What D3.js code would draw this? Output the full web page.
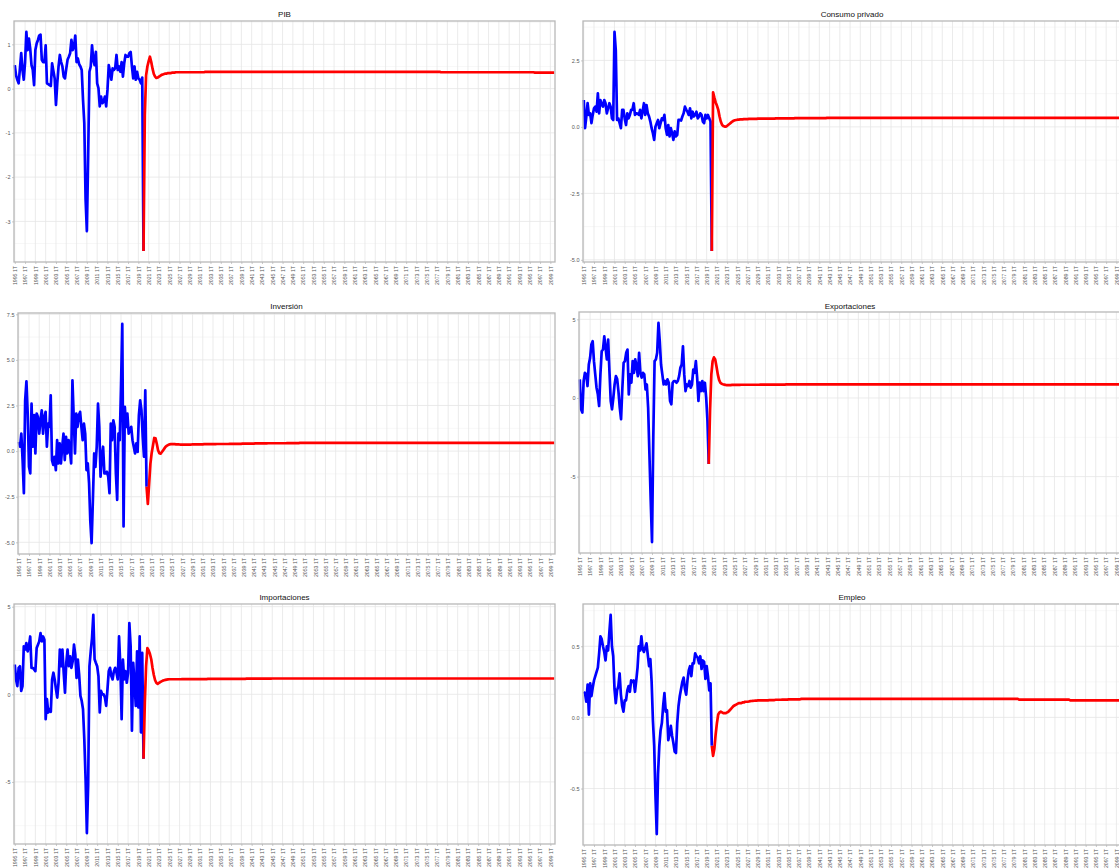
<!DOCTYPE html>
<html><head><meta charset="utf-8">
<script src="https://cdn.jsdelivr.net/npm/d3@7"></script>
<style>
html,body{margin:0;padding:0;background:#fff;overflow:hidden}
svg{display:block;font-family:"Liberation Sans",Arial,sans-serif}
</style></head><body>
<svg id="chart" width="1119" height="868"></svg>
<script>
// ---------- categories (quarters 1995 1T .. 2099 4T) ----------
const categories = [];
for (let y = 1995; y <= 2099; y++) for (let q = 1; q <= 4; q++) categories.push(y + " " + q + "T");
const forecastStart = "2020 1T";

const tickLabels = ["1995 1T","1997 1T","1999 1T","2001 1T","2003 1T","2005 1T","2007 1T","2009 1T","2011 1T","2013 1T","2015 1T","2017 1T","2019 1T","2021 1T","2023 1T","2025 1T","2027 1T","2029 1T","2031 1T","2033 1T","2035 1T","2037 1T","2039 1T","2041 1T","2043 1T","2045 1T","2047 1T","2049 1T","2051 1T","2053 1T","2055 1T","2057 1T","2059 1T","2061 1T","2063 1T","2065 1T","2067 1T","2069 1T","2071 1T","2073 1T","2075 1T","2077 1T","2079 1T","2081 1T","2083 1T","2085 1T","2087 1T","2089 1T","2091 1T","2093 1T","2095 1T","2097 1T","2099 1T"];

// ---------- historical series (1995 1T .. 2020 1T) ----------
const pibHist = [0.53,0.3,0.2,0.12,0.45,0.8,0.42,0.2,0.6,1.28,
0.87,1.13,0.9,0.53,0.42,0.08,0.87,1.02,1.1,1.2,
1.22,0.65,0.6,0.6,0.98,0.12,0.1,0.08,0.06,0.57,
0.4,0.23,-0.37,0.12,0.5,0.76,0.6,0.5,0.27,0.23,
0.45,0.65,0.72,0.8,1.1,0.87,0.95,1.2,0.6,0.68,
0.55,0.5,0.42,-0.25,-0.78,-2.5,-3.22,-1.53,0.38,0.5,
0.98,0.65,0.53,0.83,0.12,0.01,-0.4,-0.18,-0.33,-0.3,
-0.18,-0.4,-0.03,0.53,0.38,0.2,0.46,0.42,0.46,0.76,
0.42,0.5,0.38,0.6,0.27,0.57,0.76,0.72,0.72,0.8,
0.83,0.5,0.23,0.5,0.2,0.38,0.23,0.2,0.12,0.25,
-3.67];
const consumoHist = [1.01,-0.05,0.39,0.89,0.45,0.51,0.14,0.45,0.7,0.76,
0.57,1.26,0.51,1.01,0.85,0.76,1.01,0.89,0.51,0.7,
0.89,0.76,0.32,0.26,3.57,2.88,0.26,0.32,0.14,-0.05,
0.64,0.64,0.3,0.07,0.51,0.32,0.45,0.64,0.64,0.89,
0.45,0.51,0.5,0.45,0.64,0.32,0.6,0.89,0.45,0.82,
0.51,0.39,0.2,-0.05,-0.24,-0.49,0.01,0.14,0.26,-0.05,
0.14,0.32,0.26,0.45,-0.05,-0.3,0.07,-0.36,-0.05,-0.24,
-0.49,-0.17,-0.36,-0.3,0.26,0.26,0.24,0.39,0.51,0.76,
0.65,0.57,0.45,0.7,0.32,0.57,0.39,0.45,0.57,0.32,
0.39,0.51,0.45,0.2,0.14,0.45,0.32,0.45,0.32,0.2,
-4.67];
const inversionHist = [0.51,0.24,0.96,-0.49,-2.31,2.78,3.82,2.06,-0.86,-1.22,
2.6,0.24,1.97,-0.13,2.06,1.87,0.96,1.69,2.24,0.96,
1.87,2.15,0.24,1.51,1.33,3.06,-0.49,-0.76,-0.31,-1.04,
0.6,-0.67,0.42,-0.67,0.24,0.96,-0.49,0.78,-0.13,0.6,
0.05,-0.67,3.88,1.87,-0.13,2.06,1.33,1.97,2.15,1.33,
0.6,1.51,0.96,-1.04,-0.67,-1.76,-3.86,-5.04,-2.67,-0.13,
-0.86,0.24,2.6,1.33,-1.4,-0.31,0.24,-1.22,-1.22,-1.13,
-1.4,-2.31,1.51,0.6,1.69,1.33,-1.22,-2.67,0.96,0.6,
3.51,6.97,-4.13,2.42,1.33,2.06,0.96,1.15,1.33,0.6,
0.24,-0.13,0.42,-0.04,1.97,2.78,2.24,0.78,-0.31,3.33,
-1.95];
const exportHist = [1.18,-0.72,-0.93,1.08,1.6,1.5,0.76,2.13,2.55,3.4,
3.61,2.34,1.5,0.65,0.23,-0.51,1.5,2.97,3.08,3.92,
3.19,2.45,3.71,1.71,-0.19,-0.72,0.0,0.86,1.39,1.2,
0.4,-0.61,-1.35,0.6,2.24,2.34,2.87,3.08,0.23,1.5,
0.97,2.34,1.6,2.45,2.03,1.39,2.87,1.6,1.29,1.6,
1.5,0.55,0.86,-0.61,-3.57,-6.52,-9.16,-2.5,2.34,2.45,
2.87,4.77,3.61,2.13,1.5,0.86,1.08,0.86,1.18,0.97,
-0.19,-0.4,0.97,1.08,1.08,0.97,1.08,1.39,1.92,2.13,
3.29,1.5,0.44,0.86,0.76,1.08,0.65,0.86,1.81,1.6,
2.34,1.29,-0.19,0.97,0.44,1.08,0.44,0.97,0.02,-1.46,
-4.2];
const importHist = [1.7,0.85,0.47,1.51,1.6,0.19,0.47,2.74,2.55,2.92,
2.45,2.74,3.3,1.51,1.51,1.42,1.32,2.64,2.83,3.02,
3.49,3.02,3.3,3.11,-1.42,-0.28,-1.04,-0.85,-1.0,0.85,
1.23,0.85,0.28,-0.19,0.66,2.55,1.6,2.55,1.23,0.09,
1.79,2.55,1.6,2.17,1.51,1.89,2.83,2.26,0.94,1.98,
1.13,-0.09,-0.38,-0.85,-2.55,-4.81,-7.92,-5.19,1.6,2.45,
3.21,4.53,2.0,1.79,1.6,1.04,-1.04,0.19,0.0,0.0,
-0.19,-0.66,0.28,1.32,1.51,1.04,0.85,1.32,1.51,1.23,
0.85,3.3,1.6,-1.42,1.98,0.85,1.32,0.66,1.23,4.06,
2.74,-2.08,1.79,0.66,-0.66,2.45,-0.75,3.3,-2.17,2.36,
-3.68];
const empleoHist = [0.18,0.17,0.11,0.23,0.02,0.24,0.15,0.21,0.26,0.29,
0.32,0.35,0.45,0.57,0.55,0.5,0.46,0.4,0.5,0.47,
0.6,0.72,0.5,0.43,0.2,0.1,0.19,0.22,0.31,0.16,
0.08,0.04,0.12,0.12,0.19,0.22,0.18,0.26,0.25,0.26,
0.18,0.26,0.35,0.5,0.47,0.57,0.48,0.46,0.49,0.52,
0.44,0.36,0.41,0.25,-0.02,-0.2,-0.55,-0.82,-0.4,-0.2,
-0.09,-0.04,0.08,0.17,0.04,0.05,-0.16,-0.12,-0.06,-0.13,
-0.18,-0.24,-0.25,-0.04,0.08,0.15,0.2,0.25,0.28,0.2,
0.16,0.26,0.33,0.36,0.29,0.38,0.38,0.45,0.43,0.42,
0.38,0.43,0.34,0.4,0.39,0.27,0.36,0.29,0.19,0.24,
-0.2];

// ---------- forecast series (2020 1T .. 2099 4T) ----------
const pibForecast = [-3.67,-0.6,0.3,0.5,0.62,0.72,0.6,0.45,0.33,0.27,
0.24,0.25,0.27,0.29,0.31,0.32,0.33,0.34,0.34,0.35,
0.35,0.35,0.36,0.36,0.36,0.37,0.37,0.37,0.37,0.37,
0.37,0.37,0.37,0.37,0.37,0.37,0.37,0.37,0.37,0.37,
0.37,0.37,0.37,0.37,0.37,0.37,0.37,0.37,0.38,0.38,
0.38,0.38,0.38,0.38,0.38,0.38,0.38,0.38,0.38,0.38,
0.38,0.38,0.38,0.38,0.38,0.38,0.38,0.38,0.38,0.38,
0.38,0.38,0.38,0.38,0.38,0.38,0.38,0.38,0.38,0.38,
0.38,0.38,0.38,0.38,0.38,0.38,0.38,0.38,0.38,0.38,
0.38,0.38,0.38,0.38,0.38,0.38,0.38,0.38,0.38,0.38,
0.38,0.38,0.38,0.38,0.38,0.38,0.38,0.38,0.38,0.38,
0.38,0.38,0.38,0.38,0.38,0.38,0.38,0.38,0.38,0.38,
0.38,0.38,0.38,0.38,0.38,0.38,0.38,0.38,0.38,0.38,
0.38,0.38,0.38,0.38,0.38,0.38,0.38,0.38,0.38,0.38,
0.38,0.38,0.38,0.38,0.38,0.38,0.38,0.38,0.38,0.38,
0.38,0.38,0.38,0.38,0.38,0.38,0.38,0.38,0.38,0.38,
0.38,0.38,0.38,0.38,0.38,0.38,0.38,0.38,0.38,0.38,
0.38,0.38,0.38,0.38,0.38,0.38,0.38,0.38,0.38,0.38,
0.38,0.38,0.38,0.38,0.38,0.38,0.38,0.38,0.38,0.38,
0.38,0.38,0.38,0.38,0.38,0.38,0.38,0.38,0.38,0.38,
0.38,0.38,0.38,0.38,0.38,0.38,0.38,0.38,0.38,0.38,
0.38,0.38,0.38,0.38,0.38,0.38,0.38,0.38,0.38,0.38,
0.38,0.38,0.38,0.38,0.38,0.38,0.38,0.38,0.38,0.38,
0.38,0.37,0.37,0.37,0.37,0.37,0.37,0.37,0.37,0.37,
0.37,0.37,0.37,0.37,0.37,0.37,0.37,0.37,0.37,0.37,
0.37,0.37,0.37,0.37,0.37,0.37,0.37,0.37,0.37,0.37,
0.37,0.37,0.37,0.37,0.37,0.37,0.37,0.37,0.37,0.37,
0.37,0.37,0.37,0.37,0.37,0.37,0.37,0.37,0.37,0.37,
0.37,0.37,0.37,0.37,0.37,0.37,0.37,0.37,0.37,0.37,
0.37,0.37,0.37,0.37,0.37,0.37,0.37,0.37,0.37,0.37,
0.37,0.37,0.37,0.37,0.36,0.36,0.36,0.36,0.36,0.36,
0.36,0.36,0.36,0.36,0.36,0.36,0.36,0.36,0.36,0.36];
const consumoForecast = [-4.67,1.3,1.1,0.92,0.8,0.65,0.4,0.2,0.08,0.03,
0.01,0.01,0.04,0.08,0.12,0.16,0.2,0.23,0.25,0.26,
0.27,0.27,0.28,0.28,0.28,0.29,0.29,0.29,0.29,0.3,
0.3,0.3,0.3,0.3,0.3,0.3,0.31,0.31,0.31,0.31,
0.31,0.31,0.31,0.31,0.31,0.31,0.31,0.31,0.31,0.31,
0.32,0.32,0.32,0.32,0.32,0.32,0.32,0.32,0.32,0.32,
0.32,0.32,0.32,0.32,0.32,0.33,0.33,0.33,0.33,0.33,
0.33,0.33,0.33,0.33,0.33,0.33,0.33,0.33,0.33,0.33,
0.33,0.33,0.33,0.33,0.33,0.33,0.33,0.33,0.33,0.33,
0.34,0.34,0.34,0.34,0.34,0.34,0.34,0.34,0.34,0.34,
0.34,0.34,0.34,0.34,0.34,0.34,0.34,0.34,0.34,0.34,
0.34,0.34,0.34,0.34,0.34,0.34,0.34,0.34,0.34,0.34,
0.34,0.34,0.34,0.34,0.34,0.34,0.34,0.34,0.34,0.34,
0.34,0.34,0.34,0.34,0.34,0.34,0.34,0.34,0.34,0.34,
0.34,0.34,0.34,0.34,0.34,0.34,0.34,0.34,0.34,0.34,
0.34,0.34,0.34,0.34,0.34,0.34,0.34,0.34,0.34,0.34,
0.34,0.34,0.34,0.34,0.34,0.34,0.34,0.34,0.34,0.34,
0.34,0.34,0.34,0.34,0.34,0.34,0.34,0.34,0.34,0.34,
0.34,0.34,0.34,0.34,0.34,0.34,0.34,0.34,0.34,0.34,
0.34,0.34,0.34,0.34,0.34,0.34,0.34,0.34,0.34,0.34,
0.34,0.34,0.34,0.34,0.34,0.34,0.34,0.34,0.34,0.34,
0.34,0.34,0.34,0.34,0.34,0.34,0.34,0.34,0.34,0.34,
0.34,0.34,0.34,0.34,0.34,0.34,0.34,0.34,0.34,0.34,
0.34,0.34,0.34,0.34,0.34,0.34,0.34,0.34,0.34,0.34,
0.34,0.34,0.34,0.34,0.34,0.34,0.34,0.34,0.34,0.34,
0.34,0.34,0.34,0.34,0.34,0.34,0.34,0.34,0.34,0.34,
0.34,0.34,0.34,0.34,0.34,0.34,0.34,0.34,0.34,0.34,
0.34,0.34,0.34,0.34,0.34,0.34,0.34,0.34,0.34,0.34,
0.34,0.34,0.34,0.34,0.34,0.34,0.34,0.34,0.34,0.34,
0.34,0.34,0.34,0.34,0.34,0.34,0.34,0.34,0.34,0.34,
0.34,0.34,0.34,0.34,0.34,0.34,0.34,0.34,0.34,0.34,
0.34,0.34,0.34,0.34,0.34,0.34,0.34,0.34,0.34,0.34];
const inversionForecast = [-1.95,-2.9,-1.8,-0.7,-0.1,0.3,0.72,0.7,0.4,0.05,
-0.12,-0.14,-0.05,0.05,0.15,0.25,0.3,0.34,0.37,0.38,
0.38,0.38,0.38,0.37,0.37,0.37,0.36,0.36,0.36,0.36,
0.36,0.36,0.36,0.36,0.36,0.36,0.37,0.37,0.37,0.37,
0.37,0.37,0.37,0.37,0.37,0.38,0.38,0.38,0.38,0.38,
0.38,0.38,0.38,0.38,0.38,0.39,0.39,0.39,0.39,0.39,
0.39,0.39,0.39,0.39,0.39,0.4,0.4,0.4,0.4,0.4,
0.4,0.4,0.4,0.4,0.4,0.41,0.41,0.41,0.41,0.41,
0.41,0.41,0.41,0.41,0.41,0.42,0.42,0.42,0.42,0.42,
0.42,0.42,0.42,0.42,0.42,0.43,0.43,0.43,0.43,0.43,
0.43,0.43,0.43,0.43,0.43,0.43,0.43,0.43,0.43,0.43,
0.44,0.44,0.44,0.44,0.44,0.44,0.44,0.44,0.44,0.44,
0.45,0.45,0.45,0.45,0.45,0.45,0.45,0.45,0.45,0.45,
0.45,0.45,0.45,0.45,0.45,0.45,0.45,0.45,0.45,0.45,
0.45,0.45,0.45,0.45,0.45,0.45,0.45,0.45,0.45,0.45,
0.45,0.45,0.45,0.45,0.45,0.45,0.45,0.45,0.45,0.45,
0.45,0.45,0.45,0.45,0.45,0.45,0.45,0.45,0.45,0.45,
0.45,0.45,0.45,0.45,0.45,0.45,0.45,0.45,0.45,0.45,
0.45,0.45,0.45,0.45,0.45,0.45,0.45,0.45,0.45,0.45,
0.45,0.45,0.45,0.45,0.45,0.45,0.45,0.45,0.45,0.45,
0.45,0.45,0.45,0.45,0.45,0.45,0.45,0.45,0.45,0.45,
0.45,0.45,0.45,0.45,0.45,0.45,0.45,0.45,0.45,0.45,
0.45,0.45,0.45,0.45,0.45,0.45,0.45,0.45,0.45,0.45,
0.45,0.45,0.45,0.45,0.45,0.45,0.45,0.45,0.45,0.45,
0.45,0.45,0.45,0.45,0.45,0.45,0.45,0.45,0.45,0.45,
0.45,0.45,0.45,0.45,0.45,0.45,0.45,0.45,0.45,0.45,
0.45,0.45,0.45,0.45,0.45,0.45,0.45,0.45,0.45,0.45,
0.45,0.45,0.45,0.45,0.45,0.45,0.45,0.45,0.45,0.45,
0.45,0.45,0.45,0.45,0.45,0.45,0.45,0.45,0.45,0.45,
0.45,0.45,0.45,0.45,0.45,0.45,0.45,0.45,0.45,0.45,
0.45,0.45,0.45,0.45,0.45,0.45,0.45,0.45,0.45,0.45,
0.45,0.45,0.45,0.45,0.45,0.45,0.45,0.45,0.45,0.45];
const exportForecast = [-4.2,-0.8,1.5,2.34,2.58,2.45,2.0,1.5,1.15,0.97,
0.9,0.87,0.85,0.83,0.82,0.82,0.82,0.82,0.83,0.83,
0.83,0.83,0.83,0.83,0.83,0.84,0.84,0.84,0.84,0.84,
0.84,0.84,0.84,0.84,0.84,0.84,0.84,0.84,0.84,0.84,
0.85,0.85,0.85,0.85,0.85,0.85,0.85,0.85,0.85,0.85,
0.85,0.85,0.85,0.85,0.85,0.85,0.85,0.85,0.85,0.85,
0.86,0.86,0.86,0.86,0.86,0.86,0.86,0.86,0.86,0.86,
0.86,0.86,0.86,0.86,0.86,0.86,0.86,0.86,0.86,0.86,
0.86,0.86,0.86,0.86,0.86,0.86,0.86,0.86,0.86,0.86,
0.86,0.86,0.86,0.86,0.86,0.86,0.86,0.86,0.86,0.86,
0.86,0.86,0.86,0.86,0.86,0.86,0.86,0.86,0.86,0.86,
0.86,0.86,0.86,0.86,0.86,0.86,0.86,0.86,0.86,0.86,
0.86,0.86,0.86,0.86,0.86,0.86,0.86,0.86,0.86,0.86,
0.86,0.86,0.86,0.86,0.86,0.86,0.86,0.86,0.86,0.86,
0.86,0.86,0.86,0.86,0.86,0.86,0.86,0.86,0.86,0.86,
0.86,0.86,0.86,0.86,0.86,0.86,0.86,0.86,0.86,0.86,
0.86,0.86,0.86,0.86,0.86,0.86,0.86,0.86,0.86,0.86,
0.86,0.86,0.86,0.86,0.86,0.86,0.86,0.86,0.86,0.86,
0.86,0.86,0.86,0.86,0.86,0.86,0.86,0.86,0.86,0.86,
0.86,0.86,0.86,0.86,0.86,0.86,0.86,0.86,0.86,0.86,
0.86,0.86,0.86,0.86,0.86,0.86,0.86,0.86,0.86,0.86,
0.86,0.86,0.86,0.86,0.86,0.86,0.86,0.86,0.86,0.86,
0.86,0.86,0.86,0.86,0.86,0.86,0.86,0.86,0.86,0.86,
0.86,0.86,0.86,0.86,0.86,0.86,0.86,0.86,0.86,0.86,
0.86,0.86,0.86,0.86,0.86,0.86,0.86,0.86,0.86,0.86,
0.86,0.86,0.86,0.86,0.86,0.86,0.86,0.86,0.86,0.86,
0.86,0.86,0.86,0.86,0.86,0.86,0.86,0.86,0.86,0.86,
0.86,0.86,0.86,0.86,0.86,0.86,0.86,0.86,0.86,0.86,
0.86,0.86,0.86,0.86,0.86,0.86,0.86,0.86,0.86,0.86,
0.86,0.86,0.86,0.86,0.86,0.86,0.86,0.86,0.86,0.86,
0.86,0.86,0.86,0.86,0.86,0.86,0.86,0.86,0.86,0.86,
0.86,0.86,0.86,0.86,0.86,0.86,0.86,0.86,0.86,0.86];
const importForecast = [-3.68,-0.5,1.6,2.64,2.5,2.3,2.0,1.5,1.1,0.8,
0.65,0.6,0.65,0.7,0.74,0.78,0.8,0.82,0.84,0.85,
0.86,0.86,0.86,0.86,0.86,0.86,0.86,0.86,0.86,0.86,
0.87,0.87,0.87,0.87,0.87,0.87,0.87,0.87,0.87,0.87,
0.87,0.87,0.87,0.87,0.87,0.87,0.87,0.87,0.87,0.87,
0.88,0.88,0.88,0.88,0.88,0.88,0.88,0.88,0.88,0.88,
0.88,0.88,0.88,0.88,0.88,0.88,0.88,0.88,0.88,0.88,
0.88,0.88,0.88,0.88,0.88,0.88,0.88,0.88,0.88,0.88,
0.89,0.89,0.89,0.89,0.89,0.89,0.89,0.89,0.89,0.89,
0.89,0.89,0.89,0.89,0.89,0.89,0.89,0.89,0.89,0.89,
0.9,0.9,0.9,0.9,0.9,0.9,0.9,0.9,0.9,0.9,
0.9,0.9,0.9,0.9,0.9,0.9,0.9,0.9,0.9,0.9,
0.9,0.9,0.9,0.9,0.9,0.9,0.9,0.9,0.9,0.9,
0.9,0.9,0.9,0.9,0.9,0.9,0.9,0.9,0.9,0.9,
0.9,0.9,0.9,0.9,0.9,0.9,0.9,0.9,0.9,0.9,
0.9,0.9,0.9,0.9,0.9,0.9,0.9,0.9,0.9,0.9,
0.9,0.9,0.9,0.9,0.9,0.9,0.9,0.9,0.9,0.9,
0.9,0.9,0.9,0.9,0.9,0.9,0.9,0.9,0.9,0.9,
0.9,0.9,0.9,0.9,0.9,0.9,0.9,0.9,0.9,0.9,
0.9,0.9,0.9,0.9,0.9,0.9,0.9,0.9,0.9,0.9,
0.9,0.9,0.9,0.9,0.9,0.9,0.9,0.9,0.9,0.9,
0.9,0.9,0.9,0.9,0.9,0.9,0.9,0.9,0.9,0.9,
0.9,0.9,0.9,0.9,0.9,0.9,0.9,0.9,0.9,0.9,
0.9,0.9,0.9,0.9,0.9,0.9,0.9,0.9,0.9,0.9,
0.9,0.9,0.9,0.9,0.9,0.9,0.9,0.9,0.9,0.9,
0.9,0.9,0.9,0.9,0.9,0.9,0.9,0.9,0.9,0.9,
0.9,0.9,0.9,0.9,0.9,0.9,0.9,0.9,0.9,0.9,
0.9,0.9,0.9,0.9,0.9,0.9,0.9,0.9,0.9,0.9,
0.9,0.9,0.9,0.9,0.9,0.9,0.9,0.9,0.9,0.9,
0.9,0.9,0.9,0.9,0.9,0.9,0.9,0.9,0.9,0.9,
0.9,0.9,0.9,0.9,0.9,0.9,0.9,0.9,0.9,0.9,
0.9,0.9,0.9,0.9,0.9,0.9,0.9,0.9,0.9,0.9];
const empleoForecast = [-0.2,-0.27,-0.22,-0.12,-0.04,0.02,0.035,0.04,0.035,0.03,
0.03,0.03,0.035,0.04,0.05,0.06,0.07,0.08,0.085,0.09,
0.095,0.1,0.1,0.1,0.105,0.105,0.11,0.11,0.11,0.112,
0.114,0.115,0.116,0.117,0.118,0.118,0.119,0.12,0.12,0.12,
0.12,0.12,0.12,0.12,0.12,0.122,0.122,0.122,0.122,0.122,
0.124,0.124,0.124,0.124,0.124,0.125,0.125,0.125,0.125,0.125,
0.127,0.127,0.127,0.127,0.127,0.127,0.127,0.127,0.127,0.127,
0.13,0.13,0.13,0.13,0.13,0.13,0.13,0.13,0.13,0.13,
0.13,0.13,0.13,0.13,0.13,0.13,0.13,0.13,0.13,0.13,
0.13,0.13,0.13,0.13,0.13,0.13,0.13,0.13,0.13,0.13,
0.13,0.13,0.13,0.13,0.13,0.13,0.13,0.13,0.13,0.13,
0.13,0.13,0.13,0.13,0.13,0.13,0.13,0.13,0.13,0.13,
0.13,0.13,0.13,0.13,0.13,0.13,0.13,0.13,0.13,0.13,
0.13,0.13,0.13,0.13,0.13,0.13,0.13,0.13,0.13,0.13,
0.13,0.13,0.13,0.13,0.13,0.13,0.13,0.13,0.13,0.13,
0.13,0.13,0.13,0.13,0.13,0.13,0.13,0.13,0.13,0.13,
0.13,0.13,0.13,0.13,0.13,0.13,0.13,0.13,0.13,0.13,
0.13,0.13,0.13,0.13,0.13,0.13,0.13,0.13,0.13,0.13,
0.13,0.13,0.13,0.13,0.13,0.13,0.13,0.13,0.13,0.13,
0.13,0.13,0.13,0.13,0.13,0.13,0.13,0.13,0.13,0.13,
0.13,0.13,0.13,0.13,0.13,0.13,0.13,0.13,0.13,0.13,
0.13,0.13,0.13,0.13,0.13,0.13,0.13,0.13,0.13,0.13,
0.13,0.13,0.13,0.13,0.13,0.13,0.13,0.13,0.13,0.13,
0.13,0.13,0.13,0.13,0.13,0.13,0.13,0.13,0.13,0.13,
0.125,0.125,0.125,0.125,0.125,0.125,0.125,0.125,0.125,0.125,
0.125,0.125,0.125,0.125,0.125,0.125,0.125,0.125,0.125,0.125,
0.125,0.125,0.125,0.125,0.125,0.125,0.125,0.125,0.125,0.125,
0.125,0.125,0.125,0.125,0.125,0.125,0.125,0.125,0.125,0.125,
0.12,0.12,0.12,0.12,0.12,0.12,0.12,0.12,0.12,0.12,
0.12,0.12,0.12,0.12,0.12,0.12,0.12,0.12,0.12,0.12,
0.12,0.12,0.12,0.12,0.12,0.12,0.12,0.12,0.12,0.12,
0.12,0.12,0.12,0.12,0.12,0.12,0.12,0.12,0.12,0.12];

// ---------- y-axis tick values ----------
const pibTicks = [-3, -2, -1, 0, 1];
const consumoTicks = [-5, -2.5, 0, 2.5];
const inversionTicks = [-5, -2.5, 0, 2.5, 5, 7.5];
const exportTicks = [-5, 0, 5];
const importTicks = [-5, 0, 5];
const empleoTicks = [-0.5, 0, 0.5];

// ---------- panels ----------
const panels = [
  {title: "PIB", hist: pibHist, fc: pibForecast, ticks: pibTicks, dec: 0},
  {title: "Consumo privado", hist: consumoHist, fc: consumoForecast, ticks: consumoTicks, dec: 1},
  {title: "Inversión", hist: inversionHist, fc: inversionForecast, ticks: inversionTicks, dec: 1},
  {title: "Exportaciones", hist: exportHist, fc: exportForecast, ticks: exportTicks, dec: 0},
  {title: "Importaciones", hist: importHist, fc: importForecast, ticks: importTicks, dec: 0},
  {title: "Empleo", hist: empleoHist, fc: empleoForecast, ticks: empleoTicks, dec: 1}
];
// layout (plot-area boxes)
const layout = [
  {l: 14,  r: 555,  t: 21,  b: 262, ty: 16.5},
  {l: 583, r: 1121, t: 21,  b: 262, ty: 16.5},
  {l: 18,  r: 555,  t: 313, b: 554, ty: 308.5},
  {l: 579, r: 1121, t: 312, b: 553, ty: 308.5},
  {l: 14,  r: 555,  t: 604, b: 844, ty: 599.5},
  {l: 583, r: 1121, t: 604, b: 845, ty: 599.5}
];

const svg = d3.select("#chart");
const fcStartIdx = categories.indexOf(forecastStart);

panels.forEach((p, k) => {
  const L = layout[k];
  const g = svg.append("g");
  const histData = p.hist.map((v, i) => ({c: categories[i], v}));
  const fcData = p.fc.map((v, i) => ({c: categories[fcStartIdx + i], v})).filter(d => d.c !== undefined);

  const x = d3.scalePoint().domain(categories).range([L.l, L.r]).padding(0.6);
  const ext = d3.extent(p.hist.concat(p.fc));
  const pad = (ext[1] - ext[0]) * 0.05;
  const y = d3.scaleLinear().domain([ext[0] - pad, ext[1] + pad]).range([L.b, L.t]);

  // minor gridlines
  const step = p.ticks[1] - p.ticks[0];
  const minor = [];
  for (let i = -1; i < p.ticks.length; i++) {
    const m = p.ticks[0] + (i + 0.5) * step;
    if (m >= y.domain()[0] && m <= y.domain()[1]) minor.push(m);
  }
  g.append("g").selectAll("line").data(minor).join("line")
    .attr("x1", L.l).attr("x2", L.r)
    .attr("y1", d => y(d)).attr("y2", d => y(d))
    .attr("stroke", "#f2f2f2").attr("stroke-width", 0.6);
  g.append("g").selectAll("line").data(p.ticks).join("line")
    .attr("x1", L.l).attr("x2", L.r)
    .attr("y1", d => y(d)).attr("y2", d => y(d))
    .attr("stroke", "#e6e6e6").attr("stroke-width", 0.8);
  g.append("g").selectAll("line").data(tickLabels).join("line")
    .attr("x1", d => x(d)).attr("x2", d => x(d))
    .attr("y1", L.t).attr("y2", L.b)
    .attr("stroke", "#e6e6e6").attr("stroke-width", 0.8);

  // lines
  const line = d3.line().x(d => x(d.c)).y(d => y(d.v));
  g.append("path").datum(histData).attr("d", line)
    .attr("fill", "none").attr("stroke", "#0000ff").attr("stroke-width", 2.7)
    .attr("stroke-linejoin", "round");
  g.append("path").datum(fcData).attr("d", line)
    .attr("fill", "none").attr("stroke", "#ff0000").attr("stroke-width", 2.7)
    .attr("stroke-linejoin", "round");

  // border
  g.append("rect").attr("x", L.l).attr("y", L.t)
    .attr("width", L.r - L.l).attr("height", L.b - L.t)
    .attr("fill", "none").attr("stroke", "#b8b8b8").attr("stroke-width", 1.3);

  // y axis
  const ya = g.append("g").attr("transform", `translate(${L.l},0)`)
    .call(d3.axisLeft(y).tickValues(p.ticks).tickSize(2).tickPadding(1.5)
      .tickFormat(d => d.toFixed(p.dec)));
  ya.select(".domain").remove();
  ya.selectAll(".tick line").attr("stroke", "#b3b3b3").attr("stroke-width", 0.7);
  ya.selectAll("text").attr("fill", "#555").style("font-size", "5.5px")
    .style("font-family", "'Liberation Sans', Arial, sans-serif");

  // x axis
  const xa = g.append("g").attr("transform", `translate(0,${L.b})`)
    .call(d3.axisBottom(x).tickValues(tickLabels).tickSize(2));
  xa.select(".domain").remove();
  xa.selectAll(".tick line").attr("stroke", "#b3b3b3").attr("stroke-width", 0.7);
  xa.selectAll("text")
    .attr("transform", "rotate(-90)")
    .attr("text-anchor", "end")
    .attr("x", -4).attr("y", 0).attr("dy", "0.35em")
    .attr("fill", "#555").style("font-size", "5.2px")
    .style("font-family", "'Liberation Sans', Arial, sans-serif");

  // title
  g.append("text").attr("x", (L.l + L.r) / 2).attr("y", L.ty)
    .attr("text-anchor", "middle").attr("fill", "#111")
    .style("font-size", "8px")
    .style("font-family", "'Liberation Sans', Arial, sans-serif")
    .text(p.title);
});
</script>
</body></html>
